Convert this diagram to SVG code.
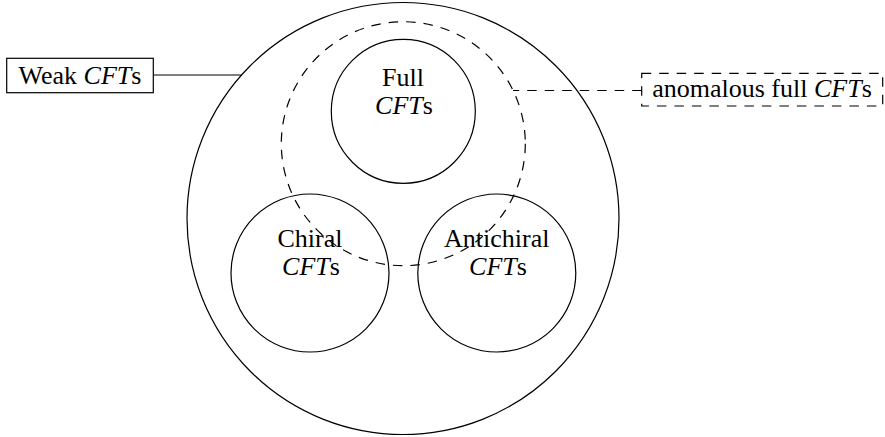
<svg xmlns="http://www.w3.org/2000/svg" width="885" height="437" viewBox="0 0 885 437">
<style>
.s{fill:none;stroke:#000;stroke-width:1.2}
.d{fill:none;stroke:#000;stroke-width:1.2;stroke-dasharray:9.5 8}
text{font-size:26px;fill:#000;text-anchor:middle}
.i{font-style:italic}
</style>
<rect width="885" height="437" fill="#fff"/>
<g id="connectors">
<line class="s" x1="153.3" y1="75" x2="241.6" y2="75"/>
<line class="d" x1="641.7" y1="90.5" x2="513" y2="90.5"/>
</g>
<g id="weak">
<circle class="s" cx="403" cy="218.5" r="216"/>
</g>
<g id="anomalous">
<circle class="d" cx="403.3" cy="143.7" r="122"/>
</g>
<g font-family="'Liberation Serif', 'Times New Roman', 'DejaVu Serif', serif">
<g id="full">
<circle class="s" cx="403.3" cy="111.3" r="72"/>
<text x="403" y="86">Full</text>
<text x="404" y="114"><tspan class="i">CFT</tspan>s</text>
</g>
<g id="chiral">
<circle class="s" cx="310" cy="273" r="79"/>
<text x="310" y="247.3">Chiral</text>
<text x="311" y="275"><tspan class="i">CFT</tspan>s</text>
</g>
<g id="antichiral">
<circle class="s" cx="496.8" cy="273" r="79"/>
<text x="496.8" y="247.3">Antichiral</text>
<text x="498" y="275"><tspan class="i">CFT</tspan>s</text>
</g>
<g id="weak-label">
<rect class="s" x="6.7" y="58.3" width="146.6" height="34.4" fill="#fff"/>
<text x="80" y="83.5">Weak <tspan class="i">CFT</tspan>s</text>
</g>
<g id="anomalous-label">
<rect class="d" x="641.7" y="73.3" width="241" height="32.7"/>
<text x="762" y="97">anomalous full <tspan class="i">CFT</tspan>s</text>
</g>
</g>
</svg>
